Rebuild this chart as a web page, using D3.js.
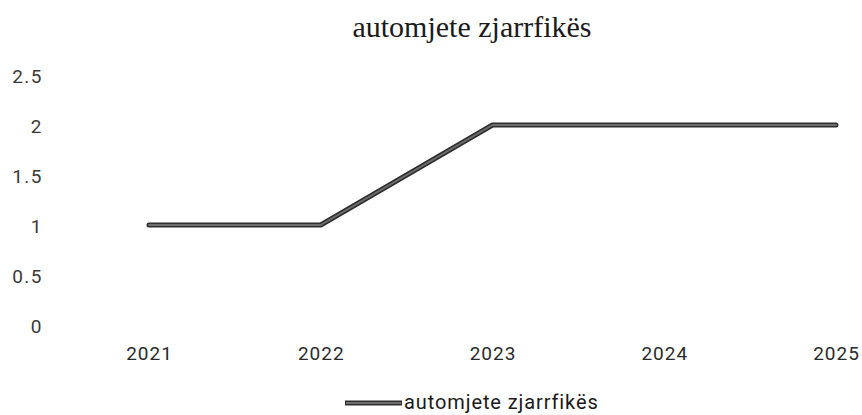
<!DOCTYPE html>
<html>
<head>
<meta charset="utf-8">
<script src="https://cdn.jsdelivr.net/npm/d3@7"></script>
<style>
    html, body { margin: 0; padding: 0; background: #ffffff; }
    svg { display: block; }
</style>
</head>
<body>
<div id="chart"></div>
<script>
// chart data
const years = ["2021", "2022", "2023", "2024", "2025"];
const seriesName = "automjete zjarrfikës";
const seriesValues = [1, 1, 2, 2, 2];
const yTicks = [0, 0.5, 1, 1.5, 2, 2.5];

const WIDTH = 862;
const HEIGHT = 415;

let svg = d3.select("#chart").append("svg")
    .attr("width", WIDTH)
    .attr("height", HEIGHT);

svg.append("rect")
    .attr("fill", "#ffffff")
    .attr("width", WIDTH)
    .attr("height", HEIGHT);

// scales
let x = d3.scalePoint().domain(years).range([149, 836]);
let y = d3.scaleLinear().domain([0, 2.5]).range([325, 75]);

// title
svg.append("text")
    .attr("x", 472)
    .attr("y", 37)
    .attr("text-anchor", "middle")
    .style("font-family", "'Liberation Serif', 'Times New Roman', serif")
    .style("font-size", "30px")
    .style("fill", "#1a1a1a")
    .text(seriesName);

// y axis labels (no axis line, no grid)
let yAxis = d3.axisLeft(y).tickValues(yTicks).tickSize(0).tickPadding(0)
    .tickFormat(d3.format("~g"));
let yAxisEL = svg.append("g")
    .attr("transform", "translate(43,0)")
    .call(yAxis);
yAxisEL.select(".domain").remove();
yAxisEL.selectAll("text")
    .attr("dy", "0.4em")
    .style("font-family", "Roboto, 'Liberation Sans', sans-serif")
    .style("font-size", "19px")
    .style("letter-spacing", "1.5px")
    .style("fill", "#3a3a3a");

// x axis labels
let xAxis = d3.axisBottom(x).tickSize(0).tickPadding(0);
let xAxisEL = svg.append("g")
    .attr("transform", "translate(0,346)")
    .call(xAxis);
xAxisEL.select(".domain").remove();
xAxisEL.selectAll("text")
    .attr("dy", "0.75em")
    .style("font-family", "Roboto, 'Liberation Sans', sans-serif")
    .style("font-size", "19px")
    .style("letter-spacing", "1px")
    .style("fill", "#2a2a2a");

// series line: dark outline with grey core
let line = d3.line()
    .x(function (d, i) { return x(years[i]); })
    .y(function (d) { return y(d); });

svg.append("path")
    .datum(seriesValues)
    .attr("d", line)
    .attr("fill", "none")
    .attr("stroke", "#2e2e2e")
    .attr("stroke-width", 5)
    .attr("stroke-linejoin", "round")
    .attr("stroke-linecap", "round");
svg.append("path")
    .datum(seriesValues)
    .attr("d", line)
    .attr("fill", "none")
    .attr("stroke", "#6e6e6e")
    .attr("stroke-width", 2)
    .attr("stroke-linejoin", "round")
    .attr("stroke-linecap", "round");

// legend
let legend = svg.append("g").attr("transform", "translate(345,403)");
legend.append("line")
    .attr("x1", 0).attr("x2", 57)
    .attr("y1", 0).attr("y2", 0)
    .attr("stroke", "#2e2e2e")
    .attr("stroke-width", 5);
legend.append("line")
    .attr("x1", 1).attr("x2", 56)
    .attr("y1", 0).attr("y2", 0)
    .attr("stroke", "#6e6e6e")
    .attr("stroke-width", 2);
legend.append("text")
    .attr("x", 59)
    .attr("y", 6)
    .style("font-family", "Roboto, 'Liberation Sans', sans-serif")
    .style("font-size", "20px")
    .style("letter-spacing", "0.9px")
    .style("fill", "#1a1a1a")
    .text(seriesName);
</script>
</body>
</html>
